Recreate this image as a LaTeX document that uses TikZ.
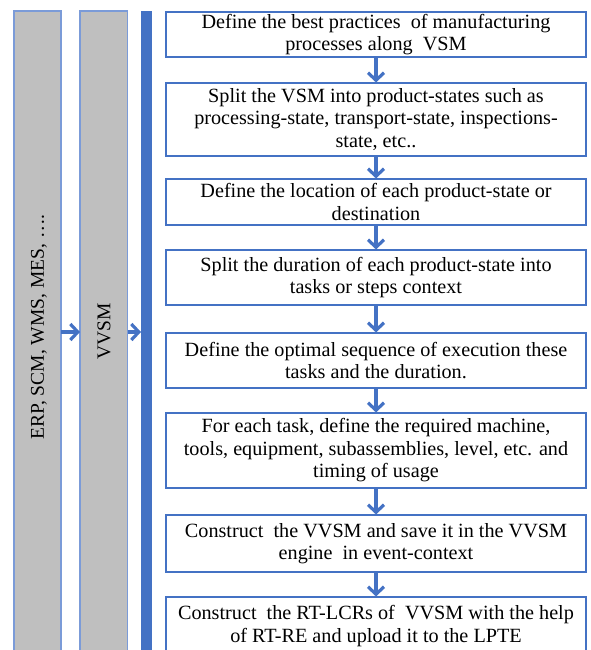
\documentclass[tikz,border=0pt]{standalone}
\usepackage{fontspec}
\setmainfont{Liberation Serif}
\usetikzlibrary{arrows.meta}
\definecolor{accent}{HTML}{4472C4}
\definecolor{colborder}{HTML}{7B9BD8}
\definecolor{colgray}{HTML}{BFBFBF}
\tikzset{
  stepbox/.style={draw=accent, line width=1.1pt, fill=white, minimum width=420, inner sep=0pt, align=center, font=\rmfamily\fontsize{20.2}{22.5}\selectfont},
  column/.style={draw=colborder, line width=1.1pt, fill=colgray},
  coltext/.style={rotate=90, font=\rmfamily\fontsize{19.5}{22.5}\selectfont, inner sep=0pt},
  flow/.style={draw=accent, line width=3.2pt, -{Straight Barb[length=7.5, width=16]}},
}
\begin{document}
\begin{tikzpicture}[x=1pt, y=-1pt]
\useasboundingbox (0,0) rectangle (590,650);
\clip (0,0) rectangle (590,650);
% columns
\draw[column] (14,11) rectangle (61,670);
\draw[column] (80,11) rectangle (127.5,670);
\fill[accent] (141,11) rectangle (151.5,670);
\coordinate (g1e) at (61,332);
\coordinate (g2w) at (80,332);
\coordinate (g2e) at (127.5,332);
\coordinate (barw) at (141,332);
\node[coltext] (t1) at (39,327) {ERP, SCM, WMS, MES, \dots.};
\node[coltext] (t2) at (104,331) {VVSM};
% boxes
\node[stepbox, minimum height=45] (b1) at (376,34.5) {Define the best practices\ \ of manufacturing\\processes along\ \ VSM};
\node[stepbox, minimum height=73] (b2) at (376,119.5) {Split the VSM into product-states such as\\processing-state, transport-state, inspections-\\state, etc..};
\node[stepbox, minimum height=46] (b3) at (376,202) {Define the location of each product-state or\\destination};
\node[stepbox, minimum height=55] (b4) at (376,277.5) {Split the duration of each product-state into\\tasks or steps context};
\node[stepbox, minimum height=55] (b5) at (376,360.5) {Define the optimal sequence of execution these\\tasks and the duration.};
\node[stepbox, minimum height=75] (b6) at (376,450.5) {For each task, define the required machine,\\tools, equipment, subassemblies, level, etc. and\\timing of usage};
\node[stepbox, minimum height=57] (b7) at (376,543.5) {Construct\ \ the VVSM and save it in the VVSM\\engine\ \ in event-context};
\node[stepbox, minimum height=58] (b8) at (376,626) {Construct\ \ the RT-LCRs of\ \ VVSM with the help\\of RT-RE and upload it to the LPTE};
% connectors
\draw[flow] (b1) -- (b2);
\draw[flow] (b2) -- (b3);
\draw[flow] (b3) -- (b4);
\draw[flow] (b4) -- (b5);
\draw[flow] (b5) -- (b6);
\draw[flow] (b6) -- (b7);
\draw[flow] (b7) -- (b8);
\draw[flow] (g1e) -- (g2w);
\draw[flow] (g2e) -- (barw);
\end{tikzpicture}
\end{document}
